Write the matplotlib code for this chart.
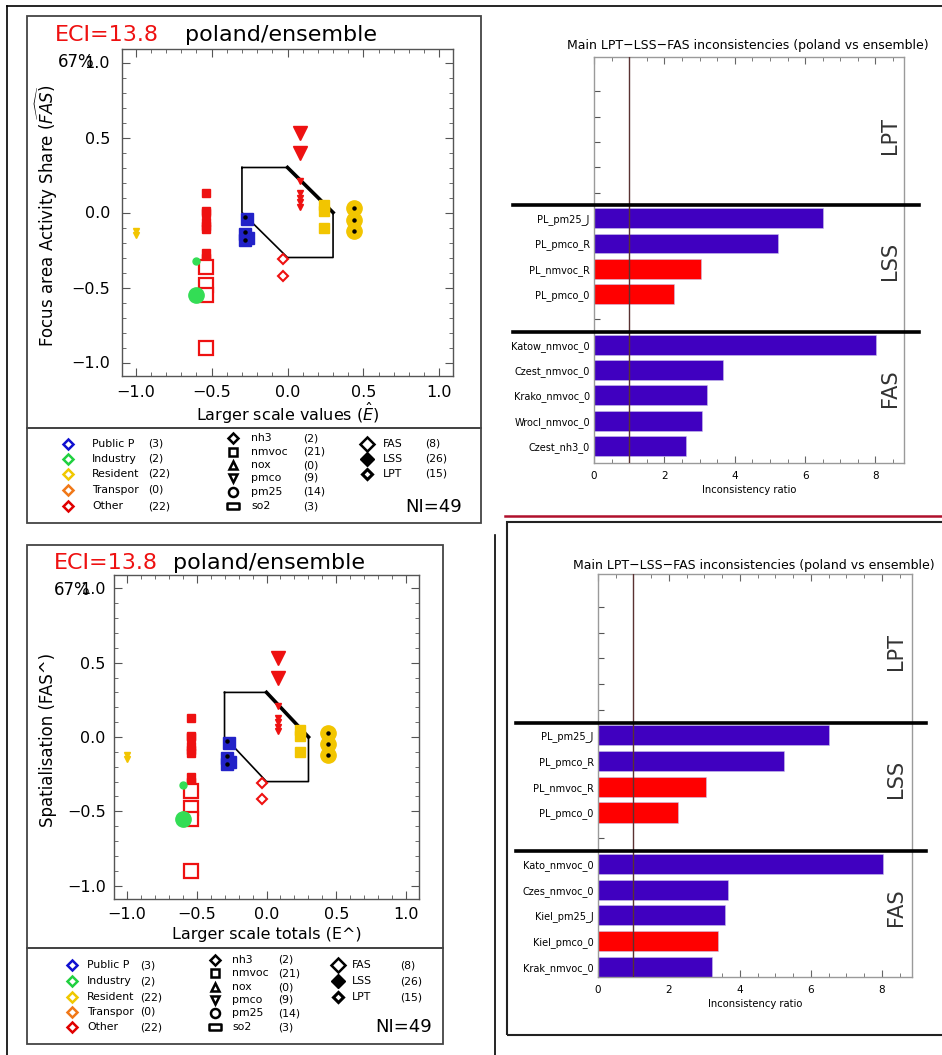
import numpy as np
import matplotlib
matplotlib.use("Agg")
import matplotlib.pyplot as plt
from matplotlib.lines import Line2D
from matplotlib.patches import Rectangle
from matplotlib.path import Path

W, H = 942, 1055

# ---- scatter data (same cloud in both scatter panels) ----
res_pmco_x = [-1.0, -1.0]
res_pmco_y = [-0.12, -0.15]
oth_nmvoc_lss_x = [-0.54, -0.54, -0.54, -0.54, -0.54, -0.54, -0.54, -0.54, -0.54]
oth_nmvoc_lss_y = [0.13, 0.01, 0.0, -0.06, -0.09, -0.11, -0.27, -0.30, -0.32]
oth_nmvoc_fas_x = [-0.54, -0.54, -0.54, -0.54]
oth_nmvoc_fas_y = [-0.36, -0.48, -0.55, -0.90]
ind_pm25_x = [-0.60, -0.60]
ind_pm25_y = [-0.32, -0.55]
ind_pm25_size = [5, 11]
pub_nmvoc_x = [-0.27, -0.28, -0.28, -0.26]
pub_nmvoc_y = [-0.04, -0.14, -0.18, -0.17]
pub_dots_x = [-0.28, -0.28, -0.28]
pub_dots_y = [-0.03, -0.13, -0.18]
oth_nh3_x = [-0.03, -0.03]
oth_nh3_y = [-0.31, -0.42]
oth_pmco_big_x = [0.08, 0.08]
oth_pmco_big_y = [0.53, 0.40]
oth_pmco_small_x = [0.08, 0.08, 0.08, 0.08, 0.08]
oth_pmco_small_y = [0.21, 0.13, 0.10, 0.07, 0.04]
res_nmvoc_x = [0.24, 0.24, 0.24]
res_nmvoc_y = [0.05, 0.01, -0.10]
res_pm25_x = [0.44, 0.44, 0.44]
res_pm25_y = [0.03, -0.05, -0.12]

poly_x = [-0.3, 0.0, 0.3, 0.3, 0.0, -0.3, -0.3]
poly_y = [0.3, 0.3, 0.0, -0.3, -0.3, 0.0, 0.3]

# ---- bar data ----
top_labels = ["PL_pm25_J", "PL_pmco_R", "PL_nmvoc_R", "PL_pmco_0",
              "Katow_nmvoc_0", "Czest_nmvoc_0", "Krako_nmvoc_0", "Wrocl_nmvoc_0", "Czest_nh3_0"]
top_values = [6.51, 5.24, 3.04, 2.26, 8.02, 3.66, 3.21, 3.08, 2.61]
top_colors = ["b", "b", "r", "r", "b", "b", "b", "b", "b"]
bot_labels = ["PL_pm25_J", "PL_pmco_R", "PL_nmvoc_R", "PL_pmco_0",
              "Kato_nmvoc_0", "Czes_nmvoc_0", "Kiel_pm25_J", "Kiel_pmco_0", "Krak_nmvoc_0"]
bot_values = [6.52, 5.23, 3.04, 2.26, 8.04, 3.65, 3.57, 3.37, 3.21]
bot_colors = ["b", "b", "r", "r", "b", "b", "b", "r", "b"]
slots = [10, 9, 8, 7, 5, 4, 3, 2, 1]

sector_names = ["Public P", "Industry", "Resident", "Transpor", "Other"]
sector_counts = ["(3)", "(2)", "(22)", "(0)", "(22)"]
sector_cols = ["#1010d0", "#20d040", "#f0c800", "#f07818", "#e00000"]
poll_names = ["nh3", "nmvoc", "nox", "pmco", "pm25", "so2"]
poll_counts = ["(2)", "(21)", "(0)", "(9)", "(14)", "(3)"]
type_names = ["FAS", "LSS", "LPT"]
type_counts = ["(8)", "(26)", "(15)"]

RED = "#ee1111"
YEL = "#f2c500"
BLUE = "#2222c8"
GREEN = "#33dd55"
BARB = "#4000c0"
BARR = "#ff0000"

fig = plt.figure(figsize=(W / 100, H / 100), dpi=100)


def fx(px):
    return px / W


def fy(py):
    return 1 - py / H


def fline(xs, ys, **kw):
    fig.add_artist(Line2D([fx(x) for x in xs], [fy(y) for y in ys], transform=fig.transFigure, **kw))


def frect(l, t, r, b, **kw):
    fig.add_artist(Rectangle((fx(l), fy(b)), (r - l) / W, (b - t) / H, transform=fig.transFigure,
                             fill=False, **kw))


rect_mk = Path([(-1, -0.55), (1, -0.55), (1, 0.55), (-1, 0.55), (-1, -0.55)],
               [Path.MOVETO, Path.LINETO, Path.LINETO, Path.LINETO, Path.CLOSEPOLY])


def scatter_panel(l, t, r, b, ylab, xlab, ylab_x, xlab_y, pad_y, pad_x):
    ax = fig.add_axes([fx(l), fy(b), (r - l) / W, (b - t) / H])
    ax.set_xlim(-1.09, 1.09)
    ax.set_ylim(-1.09, 1.09)
    ax.set_xticks([-1.0, -0.5, 0.0, 0.5, 1.0])
    ax.set_yticks([-1.0, -0.5, 0.0, 0.5, 1.0])
    ax.set_xticks(np.arange(-1.0, 1.01, 0.1), minor=True)
    ax.set_yticks(np.arange(-1.0, 1.01, 0.1), minor=True)
    ax.set_xticklabels(["\u22121.0", "\u22120.5", "0.0", "0.5", "1.0"])
    ax.set_yticklabels(["\u22121.0", "\u22120.5", "0.0", "0.5", "1.0"])
    ax.tick_params(which="both", direction="in", top=True, right=True, color="#555555", labelsize=11.5)
    ax.tick_params(axis="y", which="both", pad=pad_y)
    ax.tick_params(axis="x", which="both", pad=pad_x)
    ax.tick_params(which="major", length=6)
    ax.tick_params(which="minor", length=3)
    for s in ax.spines.values():
        s.set_color("#555555")
        s.set_linewidth(1.0)

    ax.plot(poly_x, poly_y, color="black", lw=1.2)
    ax.plot(poly_x[1:3], poly_y[1:3], color="black", lw=2.6)

    ax.plot(res_pmco_x, res_pmco_y, "v", color=YEL, ms=5, ls="none")
    ax.plot(oth_nmvoc_lss_x, oth_nmvoc_lss_y, "s", color=RED, ms=6, ls="none")
    ax.plot(oth_nmvoc_fas_x, oth_nmvoc_fas_y, "s", mfc="white", mec=RED, mew=1.6, ms=9.5, ls="none")
    for x, y, s in zip(ind_pm25_x, ind_pm25_y, ind_pm25_size):
        ax.plot(x, y, "o", color=GREEN, ms=s)
    ax.plot(pub_nmvoc_x, pub_nmvoc_y, "s", color=BLUE, ms=8, ls="none")
    ax.plot(pub_dots_x, pub_dots_y, "o", color="black", ms=2.2, ls="none")
    ax.plot(oth_nh3_x, oth_nh3_y, "D", mfc="white", mec=RED, mew=1.5, ms=5.5, ls="none")
    ax.plot(oth_pmco_big_x, oth_pmco_big_y, "v", color=RED, ms=10, ls="none")
    ax.plot(oth_pmco_small_x, oth_pmco_small_y, "v", color=RED, ms=5, ls="none")
    ax.plot(res_nmvoc_x, res_nmvoc_y, "s", color=YEL, ms=6.5, ls="none")
    ax.plot(res_pm25_x, res_pm25_y, "o", color=YEL, ms=11, ls="none")
    ax.plot(res_pm25_x, res_pm25_y, "o", color="black", ms=2.2, ls="none")

    fig.text(fx(ylab_x), fy((t + b) / 2 + 3), ylab, rotation=90, ha="center", va="center", fontsize=12)
    fig.text(fx((l + r) / 2), fy(xlab_y), xlab, ha="center", va="center", fontsize=11.5)
    return ax


def legend_block(c1, c2, c3, rows1, rows2, rows3, ni_xy):
    fs = 7.8
    mx, nx, cx = c1
    for i in range(5):
        fig.add_artist(Line2D([fx(mx)], [fy(rows1[i])], transform=fig.transFigure, marker="D", ms=5.5,
                              mfc="white", mec=sector_cols[i], mew=1.8, ls="none"))
        fig.text(fx(nx), fy(rows1[i]), sector_names[i], fontsize=fs, va="center")
        fig.text(fx(cx), fy(rows1[i]), sector_counts[i], fontsize=fs, va="center")
    mx, nx, cx = c2
    mks = ["D", "s", "^", "v", "o", rect_mk]
    sz = [5, 5.5, 5.5, 5.5, 6.5, 9]
    for i in range(6):
        fig.add_artist(Line2D([fx(mx)], [fy(rows2[i])], transform=fig.transFigure, marker=mks[i], ms=sz[i],
                              mfc="white", mec="black", mew=1.8, ls="none"))
        fig.text(fx(nx), fy(rows2[i]), poll_names[i], fontsize=fs, va="center")
        fig.text(fx(cx), fy(rows2[i]), poll_counts[i], fontsize=fs, va="center")
    mx, nx, cx = c3
    styles = [dict(ms=7.5, mfc="white", mew=1.8), dict(ms=7, mfc="black", mew=1),
              dict(ms=5.5, mfc="white", mew=2.2)]
    for i in range(3):
        fig.add_artist(Line2D([fx(mx)], [fy(rows3[i])], transform=fig.transFigure, marker="D",
                              mec="black", ls="none", **styles[i]))
        fig.text(fx(nx), fy(rows3[i]), type_names[i], fontsize=fs, va="center")
        fig.text(fx(cx), fy(rows3[i]), type_counts[i], fontsize=fs, va="center")
    fig.text(fx(ni_xy[0]), fy(ni_xy[1]), "NI=49", fontsize=13, va="center")


def bar_panel(l, t, r, b, labels, values, colors, ylim, xmax, title_y, lab_x):
    ax = fig.add_axes([fx(l), fy(b), (r - l) / W, (b - t) / H])
    ax.barh(slots, values, height=0.78, color=[BARB if c == "b" else BARR for c in colors],
            edgecolor="#c8c0e8", linewidth=0.4, zorder=2)
    ax.axvline(1.0, color="#5a3232", lw=1.0, zorder=3)
    for yl in (5.5, 10.5):
        ax.plot([-2.3, 9.25], [yl, yl], color="black", lw=2.6, clip_on=False, zorder=4)
    ax.set_xlim(0, xmax)
    ax.set_ylim(*ylim)
    ax.set_xticks([0, 2, 4, 6, 8])
    ax.set_xticks(np.arange(0, 8.6, 0.5), minor=True)
    ax.set_yticks(list(range(1, 16)))
    ax.set_yticklabels([labels[slots.index(k)] if k in slots else "" for k in range(1, 16)], fontsize=7)
    ax.tick_params(axis="x", which="both", direction="in", top=True, color="#666666", labelsize=7.5, pad=6)
    ax.tick_params(axis="x", which="major", length=5)
    ax.tick_params(axis="x", which="minor", length=3)
    ax.tick_params(axis="y", direction="in", length=4, color="#555555", pad=3)
    for s in ax.spines.values():
        s.set_color("#9a9a9a")
        s.set_linewidth(1.0)
    for txt, yv in (("LPT", 13.25), ("LSS", 8.3), ("FAS", 3.3)):
        ax.text(8.4, yv, txt, rotation=90, ha="center", va="center", fontsize=15, color="#333333")
    fig.text(fx(lab_x), fy(title_y), "Main LPT\u2212LSS\u2212FAS inconsistencies (poland vs ensemble)",
             ha="center", va="center", fontsize=9)
    fig.text(fx((l + r) / 2), fy(b + 27), "Inconsistency ratio", ha="center", va="center", fontsize=7.2)
    return ax


# ---- top-left panel ----
frect(27, 16, 481, 428, color="#444444", lw=1.3)
frect(27, 428, 481, 523, color="#444444", lw=1.3)
scatter_panel(122, 49, 453, 376, r"Focus area Activity Share ($\widehat{FAS}$)",
              r"Larger scale values ($\hat{E}$)", 47, 413, 8.5, 6.5)
fig.text(fx(55), fy(35), "ECI=13.8", color=RED, fontsize=16, va="center")
fig.text(fx(185), fy(35), "poland/ensemble", fontsize=16, va="center")
fig.text(fx(58), fy(62), "67%", fontsize=12, va="center")
legend_block((68, 92, 148), (233, 251, 303), (367, 383, 425),
             [444, 459, 474, 490, 506], [438, 452, 465, 478, 492, 506], [444, 459, 474], (405, 507))

# ---- bottom-left panel ----
frect(27, 545, 443, 948, color="#444444", lw=1.3)
frect(27, 948, 443, 1044, color="#444444", lw=1.3)
scatter_panel(114, 575, 419, 899, "Spatialisation (FAS^)", "Larger scale totals (E^)", 48, 934, 6, 6)
fig.text(fx(54), fy(563), "ECI=13.8", color=RED, fontsize=16, va="center")
fig.text(fx(173), fy(563), "poland/ensemble", fontsize=16, va="center")
fig.text(fx(54), fy(590), "67%", fontsize=12, va="center")
legend_block((72, 87, 140), (215, 232, 278), (338, 352, 400),
             [965, 981, 997, 1012, 1027], [960, 973, 987, 1000, 1013, 1027], [965, 981, 997], (375, 1027))

# ---- right panels ----
bar_panel(594, 57, 904, 463, top_labels, top_values, top_colors, (0.33, 16.36), 8.81, 45, 748)
bar_panel(598, 574, 912, 977, bot_labels, bot_values, bot_colors, (0.6, 16.28), 8.85, 566, 754)
frect(507, 522, 960, 1035, color="#222222", lw=1.5)

# page rules of the composite
fline([7, 942], [6, 6], color="black", lw=1.2)
fline([7, 7], [6, 1055], color="black", lw=1.2)
fline([495, 495], [535, 1055], color="black", lw=1.2)
fline([505, 942], [516, 516], color="#b0102c", lw=1.8)

fig.savefig("out.png", dpi=100)
